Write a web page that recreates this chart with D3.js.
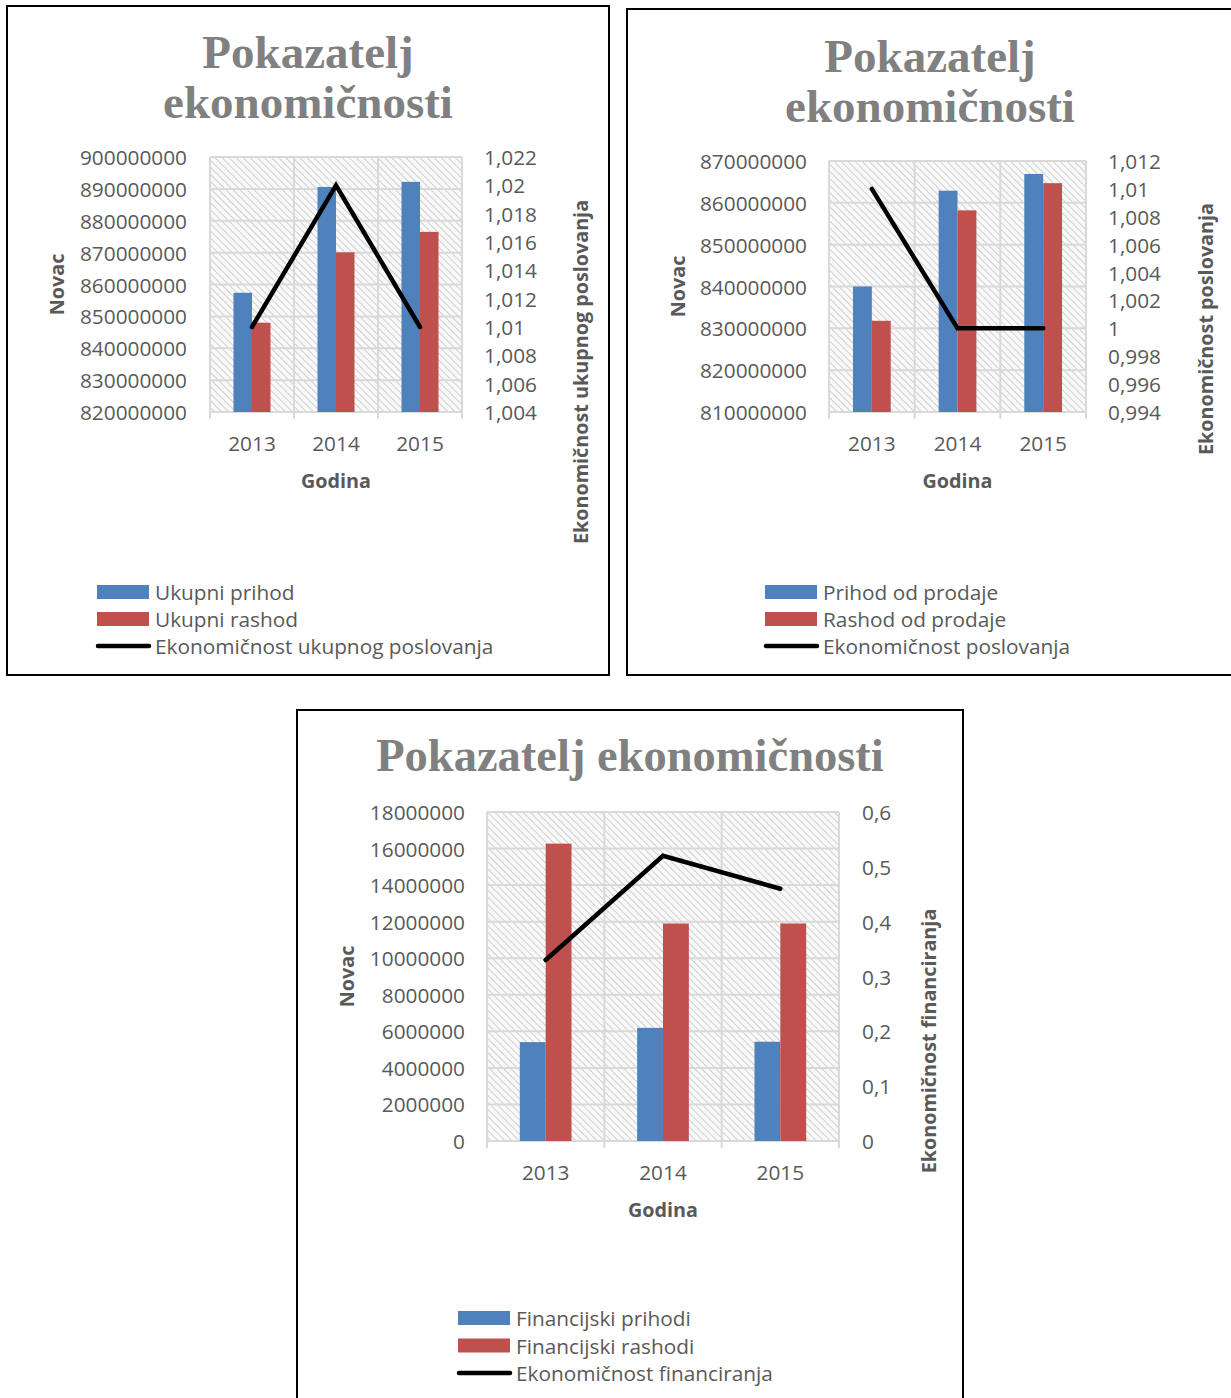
<!DOCTYPE html>
<html><head><meta charset="utf-8">
<script src="https://cdn.jsdelivr.net/npm/d3@7"></script>
<style>
html,body{margin:0;padding:0;background:#fff;}
svg{display:block;}
text{font-family:"Open Sans","Noto Sans",sans-serif;}
</style></head>
<body>
<svg id="c" width="1231" height="1398"></svg>
<script>
// ---------- data ----------
const categories = ["2013", "2014", "2015"];

const c1Title = ["Pokazatelj", "ekonomičnosti"];
const c1Prihod = [857400000, 890600000, 892200000];
const c1Rashod = [848000000, 870100000, 876500000];
const c1Ekon = [1.01, 1.02, 1.01];
const c1LeftTicks = [820000000, 830000000, 840000000, 850000000, 860000000, 870000000, 880000000, 890000000, 900000000];
const c1RightTicks = [1.004, 1.006, 1.008, 1.01, 1.012, 1.014, 1.016, 1.018, 1.02, 1.022];
const c1Legend = ["Ukupni prihod", "Ukupni rashod", "Ekonomičnost ukupnog poslovanja"];
const c1RightTitle = "Ekonomičnost ukupnog poslovanja";

const c2Title = ["Pokazatelj", "ekonomičnosti"];
const c2Prihod = [840000000, 862900000, 866900000];
const c2Rashod = [831800000, 858200000, 864700000];
const c2Ekon = [1.01, 1.0, 1.0];
const c2LeftTicks = [810000000, 820000000, 830000000, 840000000, 850000000, 860000000, 870000000];
const c2RightTicks = [0.994, 0.996, 0.998, 1.0, 1.002, 1.004, 1.006, 1.008, 1.01, 1.012];
const c2Legend = ["Prihod od prodaje", "Rashod od prodaje", "Ekonomičnost poslovanja"];
const c2RightTitle = "Ekonomičnost poslovanja";

const c3Title = ["Pokazatelj ekonomičnosti"];
const c3Prihod = [5410000, 6190000, 5430000];
const c3Rashod = [16270000, 11900000, 11900000];
const c3Ekon = [0.33, 0.52, 0.46];
const c3LeftTicks = [0, 2000000, 4000000, 6000000, 8000000, 10000000, 12000000, 14000000, 16000000, 18000000];
const c3RightTicks = [0, 0.1, 0.2, 0.3, 0.4, 0.5, 0.6];
const c3Legend = ["Financijski prihodi", "Financijski rashodi", "Ekonomičnost financiranja"];
const c3RightTitle = "Ekonomičnost financiranja";

const xTitle = "Godina";
const yTitle = "Novac";

// ---------- styles ----------
const BLUE = "#4F81BD", RED = "#C0504D", TXT = "#595959", TITLE = "#808080", GRID = "#d9d9d9";
const locale = d3.formatLocale({decimal: ",", thousands: "", grouping: [3], currency: ["", ""]});
const fmtRight = locale.format("~g");
const fmtLeft = v => String(v);

const svg = d3.select("#c");
const defs = svg.append("defs");
const pat = defs.append("pattern").attr("id", "hatch").attr("patternUnits", "userSpaceOnUse")
  .attr("width", 5).attr("height", 5).attr("patternTransform", "rotate(-45)");
pat.append("rect").attr("width", 5).attr("height", 5).attr("fill", "#f9f9f9");
pat.append("line").attr("x1", 0).attr("y1", 0).attr("x2", 0).attr("y2", 5)
  .attr("stroke", "#cfcfcf").attr("stroke-width", 2);

function drawChart(cfg) {
  const g = svg.append("g");
  const bfs = cfg.fs * 0.95;
  // frame
  g.append("rect").attr("x", cfg.box[0]).attr("y", cfg.box[1]).attr("width", cfg.box[2]).attr("height", cfg.box[3])
    .attr("fill", "#fff").attr("stroke", "#000").attr("stroke-width", 2);
  // title
  cfg.title.forEach((t, i) => {
    g.append("text").attr("x", cfg.titleX).attr("y", cfg.titleY + i * cfg.titleLH)
      .attr("text-anchor", "middle").attr("dominant-baseline", "central")
      .style("font-family", "'Liberation Serif','DejaVu Serif',serif").style("font-weight", "bold")
      .style("font-size", cfg.titleSize + "px").attr("fill", TITLE).text(t);
  });
  const [px0, px1, py0, py1] = cfg.plot; // left, right, top, bottom
  const x = d3.scaleBand().domain(categories).range([px0, px1]);
  const yL = d3.scaleLinear().domain([cfg.leftTicks[0], cfg.leftTicks[cfg.leftTicks.length - 1]]).range([py1, py0]);
  const yR = d3.scaleLinear().domain([cfg.rightTicks[0], cfg.rightTicks[cfg.rightTicks.length - 1]]).range([py1, py0]);

  // plot background hatch
  g.append("rect").attr("x", px0).attr("y", py0).attr("width", px1 - px0).attr("height", py1 - py0).attr("fill", "url(#hatch)");
  // horizontal gridlines
  g.selectAll(".hg").data(cfg.leftTicks).join("line")
    .attr("x1", px0).attr("x2", px1).attr("y1", d => yL(d)).attr("y2", d => yL(d))
    .attr("stroke", GRID).attr("stroke-width", 2);
  // vertical gridlines + ticks
  const bounds = categories.map(c => x(c)).concat([px1]);
  g.selectAll(".vg").data(bounds).join("line")
    .attr("x1", d => d).attr("x2", d => d).attr("y1", py0).attr("y2", py1 + 7)
    .attr("stroke", GRID).attr("stroke-width", 2);

  // bars
  const gw = x.bandwidth() / 2.27;
  const bw = gw / 2;
  const xs = d3.scaleBand().domain([0, 1]).range([0, gw]);
  const base = py1;
  const series = [cfg.prihod, cfg.rashod];
  const colors = [BLUE, RED];
  series.forEach((s, si) => {
    g.selectAll(".b" + si).data(s).join("rect")
      .attr("x", (d, i) => x(categories[i]) + (x.bandwidth() - gw) / 2 + xs(si))
      .attr("width", bw)
      .attr("y", d => yL(d)).attr("height", d => base - yL(d))
      .attr("fill", colors[si]);
  });
  // line
  const line = d3.line().x((d, i) => x(categories[i]) + x.bandwidth() / 2).y(d => yR(d));
  g.append("path").datum(cfg.ekon).attr("d", line).attr("fill", "none")
    .attr("stroke", "#000").attr("stroke-width", 4.5).attr("stroke-linecap", "round").attr("stroke-linejoin", "miter");

  // left axis labels
  g.selectAll(".lt").data(cfg.leftTicks).join("text")
    .attr("x", cfg.leftLabelX).attr("y", d => yL(d)).attr("text-anchor", "end").attr("dominant-baseline", "central")
    .style("font-size", cfg.fs + "px").attr("fill", TXT).text(fmtLeft);
  // right axis labels
  g.selectAll(".rt").data(cfg.rightTicks).join("text")
    .attr("x", cfg.rightLabelX).attr("y", d => yR(d)).attr("text-anchor", "start").attr("dominant-baseline", "central")
    .style("font-size", cfg.fs + "px").attr("fill", TXT).text(fmtRight);
  // category labels
  g.selectAll(".cl").data(categories).join("text")
    .attr("x", d => x(d) + x.bandwidth() / 2).attr("y", py1 + 31).attr("text-anchor", "middle").attr("dominant-baseline", "central")
    .style("font-size", cfg.fs + "px").attr("fill", TXT).text(d => d);
  // axis titles
  g.append("text").attr("x", (px0 + px1) / 2).attr("y", py1 + 68).attr("text-anchor", "middle").attr("dominant-baseline", "central")
    .style("font-size", bfs + "px").style("font-weight", "bold").attr("fill", TXT).text(xTitle);
  g.append("text").attr("transform", `translate(${cfg.novacX},${(py0 + py1) / 2}) rotate(-90)`)
    .attr("text-anchor", "middle").attr("dominant-baseline", "central")
    .style("font-size", bfs + "px").style("font-weight", "bold").attr("fill", TXT).text(yTitle);
  g.append("text").attr("transform", `translate(${cfg.rightTitleX},${cfg.rightTitleY}) rotate(-90)`)
    .attr("text-anchor", "middle").attr("dominant-baseline", "central")
    .style("font-size", bfs + "px").style("font-weight", "bold").attr("fill", TXT).text(cfg.rightTitle);

  // legend
  const [lx, ly, ldy] = cfg.legend;
  cfg.legendLabels.forEach((t, i) => {
    const yy = ly + i * ldy;
    if (i < 2) {
      g.append("rect").attr("x", lx).attr("y", yy - 7).attr("width", 52).attr("height", 14).attr("fill", colors[i]);
    } else {
      g.append("line").attr("x1", lx + 1).attr("x2", lx + 52).attr("y1", yy).attr("y2", yy)
        .attr("stroke", "#000").attr("stroke-width", 4.5).attr("stroke-linecap", "round");
    }
    g.append("text").attr("x", lx + 58).attr("y", yy).attr("dominant-baseline", "central")
      .style("font-size", cfg.fs + "px").attr("fill", TXT).text(t);
  });
}

drawChart({
  box: [7, 6, 602, 669], title: c1Title, titleX: 308, titleY: 52, titleLH: 50, titleSize: 47,
  plot: [210, 462, 157, 412], leftTicks: c1LeftTicks, rightTicks: c1RightTicks,
  prihod: c1Prihod, rashod: c1Rashod, ekon: c1Ekon, fs: 20.8,
  leftLabelX: 187, rightLabelX: 484, novacX: 56, rightTitleX: 580, rightTitleY: 372,
  rightTitle: c1RightTitle, legend: [97, 592, 27], legendLabels: c1Legend
});
drawChart({
  box: [627, 9, 620, 666], title: c2Title, titleX: 930, titleY: 56, titleLH: 50, titleSize: 47,
  plot: [829, 1086, 161, 412], leftTicks: c2LeftTicks, rightTicks: c2RightTicks,
  prihod: c2Prihod, rashod: c2Rashod, ekon: c2Ekon, fs: 20.8,
  leftLabelX: 807, rightLabelX: 1108, novacX: 677, rightTitleX: 1205, rightTitleY: 329,
  rightTitle: c2RightTitle, legend: [765, 592, 27], legendLabels: c2Legend
});
drawChart({
  box: [297, 710, 666, 700], title: c3Title, titleX: 630, titleY: 755, titleLH: 50, titleSize: 46.5,
  plot: [487, 839, 812, 1141], leftTicks: c3LeftTicks, rightTicks: c3RightTicks,
  prihod: c3Prihod, rashod: c3Rashod, ekon: c3Ekon, fs: 20.8,
  leftLabelX: 465, rightLabelX: 862, novacX: 346, rightTitleX: 928, rightTitleY: 1041,
  rightTitle: c3RightTitle, legend: [458, 1318, 27.5], legendLabels: c3Legend
});
</script>
</body></html>
